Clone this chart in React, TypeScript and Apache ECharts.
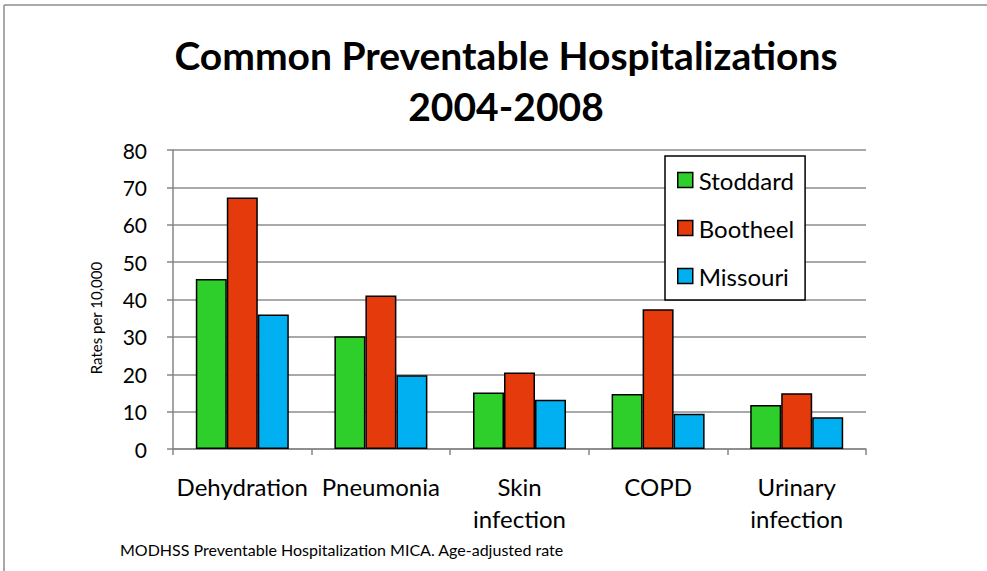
import React, { useEffect, useRef } from "react";
import * as echarts from "echarts";

const categories = ["Dehydration", "Pneumonia", "Skin\ninfection", "COPD", "Urinary\ninfection"];
const seriesNames = ["Stoddard", "Bootheel", "Missouri"];
const stoddard = [45.5, 30.2, 15.1, 14.7, 11.8];
const bootheel = [67.3, 41.1, 20.5, 37.4, 14.9];
const missouri = [36.0, 19.7, 13.2, 9.4, 8.5];
const seriesColors = ["#2ECF2A", "#E43A0C", "#00B0F0"];
const titleText = "Common Preventable Hospitalizations\n2004-2008";
const yAxisName = "Rates per 10,000";
const footnote = "MODHSS Preventable Hospitalization MICA. Age-adjusted rate";

const FONT = "Lato, 'Open Sans', 'Noto Sans', sans-serif";

export default function App() {
  const ref = useRef<HTMLDivElement>(null);
  useEffect(() => {
    if (!ref.current) return;
    const chart = echarts.init(ref.current, null, { renderer: "svg" });
    const values = [stoddard, bootheel, missouri];
    chart.setOption({
      animation: false,
      backgroundColor: "#ffffff",
      textStyle: { fontFamily: FONT },
      title: {
        text: titleText,
        left: 501,
        top: 24,
        textAlign: "center",
        textStyle: {
          fontFamily: FONT,
          fontSize: 39,
          fontWeight: "bold",
          color: "#000",
          lineHeight: 51,
        },
      },
      legend: {
        orient: "vertical",
        left: 665,
        top: 156,
        data: seriesNames,
        backgroundColor: "#fff",
        borderColor: "#000",
        borderWidth: 1.5,
        padding: [12, 11, 12, 12],
        itemGap: 24,
        itemWidth: 15,
        itemHeight: 15,
        icon: "rect",
        textStyle: { fontFamily: FONT, fontSize: 24, color: "#000", padding: [0, 0, 0, 1] },
        itemStyle: { borderColor: "#000", borderWidth: 1.5 },
      },
      grid: { left: 173, right: 121, top: 150, bottom: 122, containLabel: false },
      xAxis: {
        type: "category",
        data: categories,
        axisLine: { show: true, lineStyle: { color: "#868686", width: 1.5 } },
        axisTick: { show: true, alignWithLabel: false, length: 6, lineStyle: { color: "#868686", width: 1.5 } },
        axisLabel: {
          interval: 0,
          fontFamily: FONT,
          fontSize: 24,
          color: "#000",
          lineHeight: 32,
          margin: 21,
        },
      },
      yAxis: {
        type: "value",
        min: 0,
        max: 80,
        interval: 10,
        axisLine: { show: true, lineStyle: { color: "#868686", width: 1.5 } },
        axisTick: { show: true, length: 6, lineStyle: { color: "#868686", width: 1.5 } },
        splitLine: { show: true, lineStyle: { color: "#8c8c8c", width: 1.5 } },
        axisLabel: { fontFamily: FONT, fontSize: 21, color: "#000", margin: 26 },
      },
      series: seriesNames.map((name, i) => ({
        name,
        type: "bar",
        data: values[i],
        barWidth: 31,
        barGap: "0%",
        itemStyle: { color: seriesColors[i], borderColor: "#000", borderWidth: 1.5 },
      })),
      graphic: [
        { type: "line", shape: { x1: 4, y1: 5, x2: 987, y2: 5 }, style: { stroke: "#8c8c8c", lineWidth: 1.5 } },
        { type: "line", shape: { x1: 4, y1: 5, x2: 4, y2: 571 }, style: { stroke: "#8c8c8c", lineWidth: 1.5 } },
        {
          type: "text",
          x: 96,
          y: 318,
          rotation: Math.PI / 2,
          style: {
            text: yAxisName,
            fontFamily: FONT,
            fontSize: 15,
            fill: "#000",
            align: "center",
            verticalAlign: "middle",
          },
        },
        {
          type: "text",
          x: 120,
          y: 549,
          style: {
            text: footnote,
            fontFamily: FONT,
            fontSize: 16,
            fill: "#000",
            align: "left",
            verticalAlign: "middle",
          },
        },
      ],
    });
    return () => chart.dispose();
  }, []);
  return <div ref={ref} style={{ position: "fixed", left: 0, top: 0, width: 987, height: 571 }} />;
}
